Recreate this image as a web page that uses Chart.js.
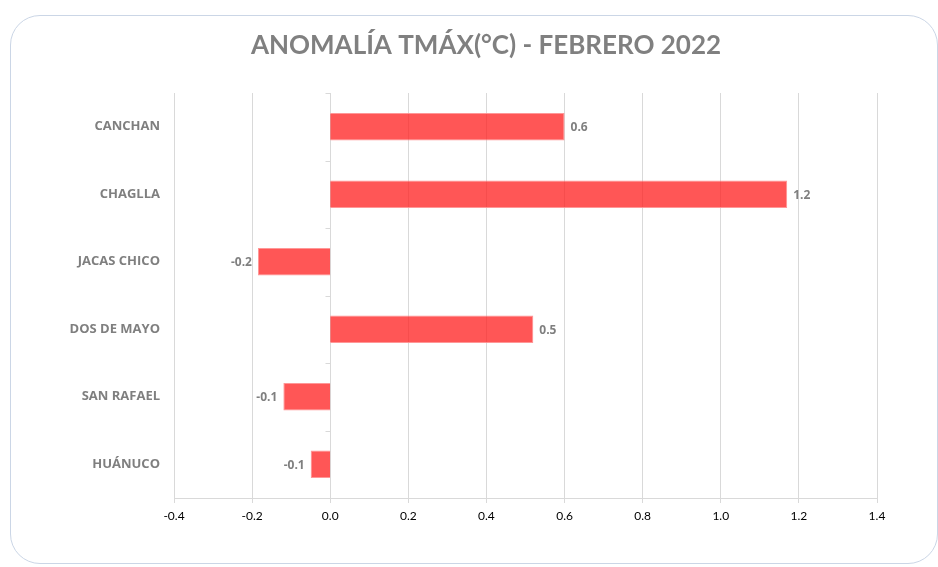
<!DOCTYPE html>
<html>
<head>
<meta charset="utf-8">
<script src="https://cdn.jsdelivr.net/npm/chart.js@4"></script>
<style>
  body { margin: 0; background: #fff; }
  #frame {
    position: absolute; left: 10px; top: 15px; width: 926px; height: 547px;
    border: 1px solid #cbd6e6; border-radius: 30px;
  }
  #wrap { position: absolute; left: 0; top: 0; width: 938px; height: 567px; }
</style>
</head>
<body>
<div id="frame"></div>
<div id="wrap"><canvas id="barChart" width="938" height="567"></canvas></div>
<script>
const chartTitle = 'ANOMALÍA TMÁX(°C) - FEBRERO 2022';
const stations = ['CANCHAN', 'CHAGLLA', 'JACAS CHICO', 'DOS DE MAYO', 'SAN RAFAEL', 'HUÁNUCO'];
const anomalies = [0.6, 1.17, -0.185, 0.52, -0.12, -0.05];
const xMin = -0.4;
const xMax = 1.4;

// title drawn by hand so it sits where the original does
const titleText = {
  id: 'titleText',
  afterDraw(chart) {
    const ctx = chart.ctx;
    ctx.save();
    ctx.font = 'bold 26px Lato';
    ctx.fillStyle = '#808080';
    ctx.textAlign = 'center';
    ctx.textBaseline = 'middle';
    ctx.fillText(chartTitle, 486, 46);
    ctx.restore();
  },
};

// value labels beside each bar end
const valueLabels = {
  id: 'valueLabels',
  afterDatasetsDraw(chart) {
    const ctx = chart.ctx;
    const meta = chart.getDatasetMeta(0);
    ctx.save();
    ctx.font = 'bold 12px "Open Sans"';
    ctx.fillStyle = '#7f7f7f';
    ctx.textBaseline = 'middle';
    meta.data.forEach((bar, i) => {
      const v = anomalies[i];
      const txt = v.toFixed(1);
      if (v >= 0) {
        ctx.textAlign = 'left';
        ctx.fillText(txt, bar.x + 6, bar.y + 1);
      } else {
        ctx.textAlign = 'right';
        ctx.fillText(txt, bar.x - 6, bar.y + 1);
      }
    });
    ctx.restore();
  },
};

// vertical axis line at zero with small ticks between categories
const zeroAxis = {
  id: 'zeroAxis',
  beforeDatasetsDraw(chart) {
    const ctx = chart.ctx;
    const x0 = Math.round(chart.scales.x.getPixelForValue(0)) + 0.5;
    const area = chart.chartArea;
    const step = (area.bottom - area.top) / stations.length;
    ctx.save();
    ctx.strokeStyle = '#d9d9d9';
    ctx.lineWidth = 1;
    ctx.beginPath();
    ctx.moveTo(x0, area.top);
    ctx.lineTo(x0, area.bottom);
    for (let i = 0; i < stations.length; i++) {
      const y = Math.round(area.top + step * i) + 0.5;
      ctx.moveTo(x0 - 5, y);
      ctx.lineTo(x0, y);
    }
    ctx.stroke();
    ctx.restore();
  },
};

const ctx = document.getElementById('barChart').getContext('2d');
new Chart(ctx, {
  type: 'bar',
  data: {
    labels: stations,
    datasets: [
      {
        label: 'Anomalía',
        data: anomalies,
        backgroundColor: 'rgba(255, 30, 30, 0.75)',
        borderColor: 'rgba(255, 140, 140, 0.9)',
        borderWidth: 1,
        categoryPercentage: 0.41,
        barPercentage: 1.0,
      },
    ],
  },
  options: {
    indexAxis: 'y',
    responsive: false,
    animation: false,
    layout: {
      padding: { left: 10, right: 61, top: 93, bottom: 0 },
    },
    plugins: {
      legend: { display: false },
      tooltip: { enabled: false },
      title: { display: false },
    },
    scales: {
      x: {
        min: xMin,
        max: xMax,
        ticks: {
          stepSize: 0.2,
          color: '#000',
          padding: 6,
          font: { family: 'Lato', size: 12 },
          callback: (v) => (Math.abs(v) < 1e-9 ? 0 : Number(v)).toFixed(1),
        },
        grid: {
          color: '#d9d9d9',
          tickLength: 5,
        },
        border: { color: '#d9d9d9' },
        afterFit: (scale) => { scale.height = 69; },
      },
      y: {
        grid: { display: false, drawTicks: false },
        border: { display: false },
        ticks: {
          color: '#7f7f7f',
          padding: 14,
          font: { family: 'Open Sans', size: 13, weight: 'bold' },
        },
        afterFit: (scale) => { scale.width = 164; },
      },
    },
  },
  plugins: [zeroAxis, valueLabels, titleText],
});
</script>
</body>
</html>
